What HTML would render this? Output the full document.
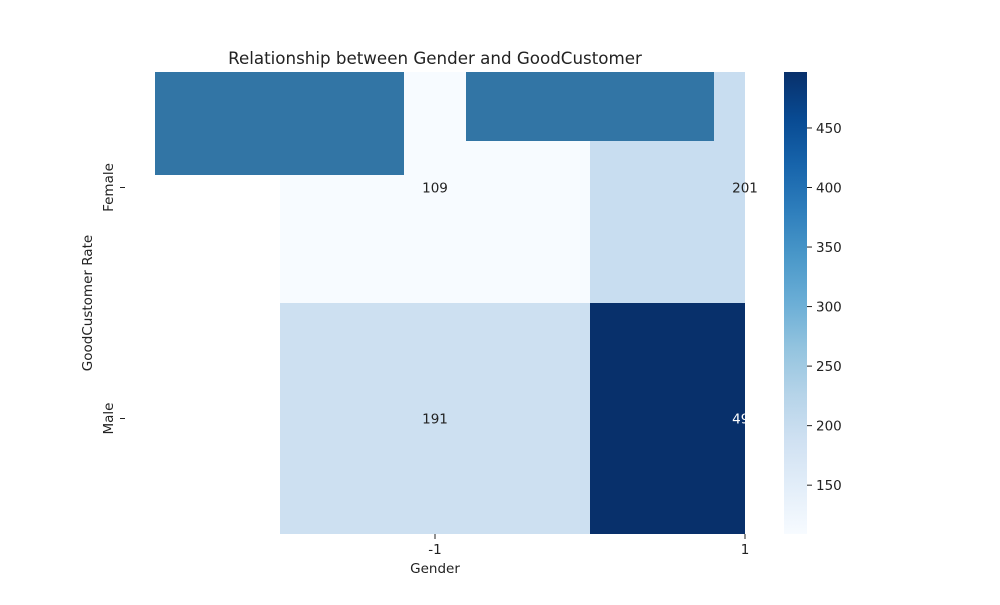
<!DOCTYPE html>
<html><head><meta charset="utf-8"><style>
body{margin:0;background:#fff}
svg text{font-family:"DejaVu Sans","Liberation Sans",sans-serif;fill:#222}
</style></head><body>
<svg id="chart" width="1000" height="600" xmlns="http://www.w3.org/2000/svg">
<defs>
<clipPath id="ax"><rect x="125" y="72" width="620" height="462"/></clipPath>
<linearGradient id="cb" x1="0" y1="1" x2="0" y2="0"></linearGradient>
</defs>
<text x="435" y="64" text-anchor="middle" font-size="16.7">Relationship between Gender and GoodCustomer</text>
<g id="cells" clip-path="url(#ax)"></g>
<g id="labels"></g>
<rect x="155" y="72" width="249" height="103" fill="#3275a5"/>
<rect x="466" y="72" width="248" height="69" fill="#3275a5"/>
<g id="axes"></g>
<text x="435" y="573" text-anchor="middle" font-size="13.5">Gender</text>
<text transform="translate(92,303) rotate(-90)" text-anchor="middle" font-size="13.5">GoodCustomer Rate</text>
<rect x="784" y="72" width="23" height="462" fill="url(#cb)"/>
<g id="cbticks"></g>
</svg>
<script>
const rows=["Female","Male"];
const cols=["-1","1"];
const values=[[109,201],[191,497]];
const cbTicks=[150,200,250,300,350,400,450];
const vmin=109, vmax=497;
const blues=["#f7fbff","#deebf7","#c6dbef","#9ecae1","#6baed6","#4292c6","#2171b5","#08519c","#08306b"];
function hex(h){return [1,3,5].map(i=>parseInt(h.substr(i,2),16));}
function cmap(v){let t=Math.max(0,Math.min(1,(v-vmin)/(vmax-vmin)))*(blues.length-1);let i=Math.min(Math.floor(t),blues.length-2),f=t-i;const a=hex(blues[i]),b=hex(blues[i+1]);return "rgb("+a.map((x,k)=>Math.round(x+(b[k]-x)*f)).join(",")+")";}
const xc=i=>435+310*i, yc=j=>187.5+231*j, cw=310, ch=231;
const cbY=v=>534-(v-vmin)/(vmax-vmin)*462;
const NS="http://www.w3.org/2000/svg";
function mk(t,a,p){const e=document.createElementNS(NS,t);for(const k in a)e.setAttribute(k,a[k]);p.appendChild(e);return e;}
const cells=document.getElementById('cells'),labels=document.getElementById('labels'),axes=document.getElementById('axes'),cbt=document.getElementById('cbticks');
values.forEach((r,j)=>r.forEach((v,i)=>{
 const c=mk('rect',{x:xc(i)-cw/2,y:yc(j)-ch/2,width:cw,height:ch,fill:cmap(v)},cells);
 
 
 const par=(xc(i)+12>745)&&v>300?cells:labels;
 const t=mk('text',{x:xc(i),y:yc(j)+5,'text-anchor':'middle','font-size':13.5},par);
 t.textContent=v;
 if(v>300)t.style.fill="#fff";
 
 
}));
rows.forEach((r,j)=>{
 mk('line',{x1:120,x2:125,y1:yc(j),y2:yc(j),stroke:'#222'},axes);
 const t=mk('text',{transform:`translate(113,${yc(j)}) rotate(-90)`,'text-anchor':'middle','font-size':13.5},axes);
 t.textContent=r;
 
 
});
cols.forEach((c,i)=>{
 mk('line',{x1:xc(i),x2:xc(i),y1:534,y2:539,stroke:'#222'},axes);
 const t=mk('text',{x:xc(i),y:554,'text-anchor':'middle','font-size':13.5},axes);
 t.textContent=c;
 
 
});
const g=document.getElementById('cb');
for(let k=0;k<=10;k++){mk('stop',{offset:k/10,'stop-color':cmap(vmin+(vmax-vmin)*k/10)},g);}
cbTicks.forEach(v=>{
 mk('line',{x1:807,x2:812,y1:cbY(v),y2:cbY(v),stroke:'#222'},cbt);
 const t=mk('text',{x:816,y:cbY(v)+5,'font-size':13.5},cbt);
 t.textContent=v;
 
 
});
</script>
</body></html>
